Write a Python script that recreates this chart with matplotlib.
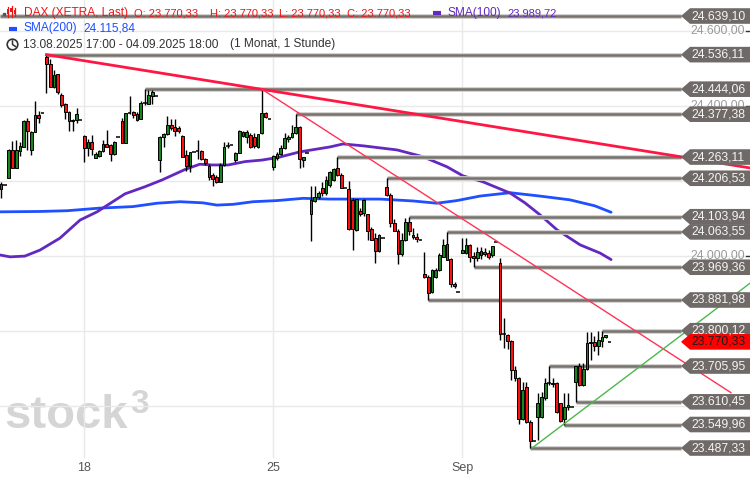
import matplotlib
matplotlib.use("Agg")
import matplotlib.pyplot as plt
from matplotlib.patches import Polygon, Circle, Rectangle
from matplotlib.transforms import blended_transform_factory
import numpy as np

plt.rcParams['font.family'] = ['Liberation Sans', 'DejaVu Sans']

# DAX hourly, 13.08.2025 17:00 - 04.09.2025 18:00 (10 slots per day, last slot = auction)
opens = [24178, 24189,
         24207, 24282, 24234, 24279, 24290, 24359, 24282, 24330, 24375, 24381,
         24530, 24511, 24450, 24485, 24429, 24405, 24383, 24359, 24362, 24362,
         24319, 24287, 24303, 24261, 24266, 24279, 24298, 24295, 24271, 24317,
         24359, 24301, 24381, 24383, 24378, 24365, 24407, 24405, 24426, 24426,
         24255, 24317, 24325, 24349, 24343, 24341, 24319, 24269, 24239, 24277,
         24279, 24279, 24258, 24239, 24215, 24210, 24197, 24242, 24293, 24295,
         24255, 24274, 24330, 24317, 24322, 24317, 24290, 24327, 24381, 24365,
         24237, 24261, 24271, 24287, 24311, 24317, 24327, 24343, 24255, 24274,
         24111, 24146, 24157, 24181, 24167, 24189, 24202, 24234, 24215, 24181,
         24178, 24149, 24069, 24119, 24114, 24111, 24071, 24047, 24013, 24047,
         24183, 24162, 24087, 24066, 24005, 24042, 24090, 24055, 24050, 24042,
         23951, 23943, 23903, 23943, 23962, 23997, 24031, 23991, 23925, 23903,
         24007, 24007, 24029, 23999, 23994, 24002, 24010, 24007, 24002, 24037,
         23981, 23791, 23789, 23773, 23695, 23674, 23565, 23650, 23557, 23506,
         23570, 23570, 23621, 23661, 23658, 23661, 23607, 23565, 23597, 23597,
         23663, 23706, 23655, 23698, 23767, 23770, 23759, 23773, 23783, 23770.33]
highs = [24197, 24189,
         24285, 24306, 24309, 24303, 24362, 24367, 24333, 24413, 24386, 24381,
         24536.11, 24525, 24495, 24485, 24434, 24407, 24386, 24365, 24394, 24362,
         24322, 24311, 24322, 24277, 24282, 24309, 24335, 24298, 24306, 24317,
         24367, 24381, 24426, 24386, 24383, 24413, 24444.06, 24441, 24441, 24426,
         24319, 24327, 24373, 24365, 24365, 24346, 24322, 24282, 24266, 24277,
         24309, 24282, 24261, 24245, 24221, 24215, 24247, 24303, 24303, 24295,
         24277, 24335, 24333, 24335, 24327, 24327, 24325, 24444.06, 24383, 24365,
         24269, 24277, 24295, 24327, 24322, 24349, 24377.38, 24346, 24263, 24274,
         24186, 24186, 24173, 24197, 24213, 24226, 24234, 24263.11, 24221, 24181,
         24199, 24154, 24151, 24127, 24151, 24111, 24077, 24061, 24058, 24047,
         24206.53, 24167, 24098, 24071, 24060, 24100, 24103.94, 24074, 24061, 24042,
         24010, 23949, 23965, 23967, 24007, 24045, 24063.55, 23994, 23930, 23903,
         24047, 24047, 24031, 24010, 24023, 24023, 24021, 24015, 24026, 24037,
         23994, 23834, 23791, 23775, 23706, 23677, 23663, 23663, 23562, 23506,
         23634, 23637, 23674, 23705.95, 23674, 23663, 23607, 23634, 23634, 23597,
         23706, 23714, 23714, 23797, 23797, 23786, 23799, 23800.12, 23789, 23770.33]
lows = [24154, 24189,
        24207, 24234, 24234, 24266, 24290, 24282, 24269, 24330, 24354, 24381,
        24434, 24450, 24447, 24431, 24397, 24365, 24333, 24333, 24354, 24362,
        24250, 24266, 24269, 24261, 24263, 24277, 24290, 24253, 24269, 24317,
        24301, 24301, 24378, 24367, 24359, 24365, 24402, 24405, 24405, 24426,
        24223, 24290, 24322, 24335, 24319, 24327, 24263, 24226, 24223, 24277,
        24258, 24255, 24242, 24202, 24186, 24194, 24197, 24239, 24287, 24295,
        24250, 24274, 24317, 24301, 24287, 24287, 24287, 24325, 24367, 24365,
        24229, 24255, 24269, 24285, 24303, 24314, 24325, 24234, 24237, 24274,
        24039, 24143, 24151, 24159, 24162, 24183, 24199, 24213, 24181, 24181,
        24069, 24015, 24066, 24106, 24106, 24042, 24042, 23981, 24010, 24047,
        24159, 24077, 24066, 23978, 23999, 24039, 24055, 24045, 24037, 24042,
        23941, 23881.98, 23901, 23941, 23959, 23997, 23989, 23917, 23914, 23903,
        24007, 24005, 23983, 23969.36, 23986, 23991, 23999, 23991, 23997, 24037,
        23775, 23754, 23751, 23669, 23666, 23552, 23562, 23553, 23487.33, 23506,
        23509, 23567, 23615, 23655, 23650, 23581, 23557, 23549.96, 23589, 23597,
        23610.45, 23653, 23653, 23695, 23722, 23746, 23735, 23757, 23781, 23770.33]
closes = [24191, 24189,
          24282, 24234, 24282, 24293, 24359, 24333, 24330, 24375, 24367, 24381,
          24511, 24450, 24482, 24437, 24402, 24383, 24359, 24362, 24378, 24362,
          24287, 24303, 24285, 24271, 24279, 24298, 24290, 24271, 24303, 24317,
          24301, 24381, 24383, 24375, 24362, 24407, 24405, 24429, 24437, 24426,
          24317, 24325, 24349, 24341, 24333, 24333, 24263, 24239, 24277, 24277,
          24277, 24258, 24247, 24210, 24205, 24197, 24242, 24290, 24295, 24295,
          24274, 24333, 24319, 24330, 24290, 24293, 24325, 24381, 24370, 24365,
          24266, 24271, 24287, 24314, 24317, 24327, 24343, 24258, 24263, 24274,
          24149, 24157, 24167, 24167, 24202, 24223, 24231, 24215, 24181, 24181,
          24071, 24071, 24151, 24111, 24149, 24066, 24042, 24013, 24055, 24047,
          24162, 24087, 24066, 24005, 24042, 24090, 24066, 24050, 24045, 24042,
          23943, 23901, 23962, 23962, 24002, 24029, 23989, 23925, 23919, 23903,
          24015, 24029, 23997, 23994, 24010, 24013, 24005, 23997, 24026, 24037,
          23791, 23789, 23773, 23695, 23674, 23565, 23642, 23557, 23506, 23506,
          23607, 23623, 23661, 23660, 23661, 23583, 23559, 23597, 23602, 23597,
          23706, 23655, 23698, 23767, 23770, 23759, 23775, 23783, 23789, 23770.33]

# moving averages (slot, value)
sma100_x = [-0.3, 2.4, 6.3, 10.3, 15.6, 20.9, 25.4, 32.8, 38.1, 42.6, 48.7, 52.6, 55.8,
            60.1, 64.6, 69.0, 73.3, 79.1, 87.0, 90.5, 95.8, 104.8, 111.6, 118.0, 122.2,
            127.5, 134.7, 138.6, 142.6, 147.1, 153.2, 158.5, 161.4]
sma100 = [24002, 23997, 23999, 24015, 24047, 24095, 24117, 24165, 24184, 24202, 24230,
          24244, 24242, 24242, 24251, 24255, 24262, 24277, 24290, 24298, 24293, 24282,
          24264, 24237, 24213, 24197, 24167, 24141, 24109, 24069, 24029, 24007, 23989.72]
sma200_x = [-0.3, 10.3, 17.5, 26.2, 34.9, 41.3, 47.4, 53.4, 57.1, 61.4, 66.7, 73.0, 79.9,
            87.0, 100.3, 109.0, 115.3, 120.6, 126.7, 134.7, 142.6, 150.5, 157.1, 161.4]
sma200 = [24117, 24118, 24120, 24127, 24131, 24140, 24144, 24141, 24135, 24137, 24144,
          24147, 24153, 24151, 24151, 24146, 24140, 24147, 24159, 24168, 24159, 24149,
          24133, 24115.84]

# horizontal levels and the slot where each one starts
levels = [24639.10, 24536.11, 24444.06, 24377.38, 24263.11, 24206.53, 24103.94, 24063.55,
          23969.36, 23881.98, 23800.12, 23705.95, 23610.45, 23549.96, 23487.33]
level_start = [None, 12, 38, 78, 89, 102, 108, 118, 125, 113, 159, 145, 152, 149, 140]
last_price = 23770.33

# trend lines (slot, price)
trend_long = [(12, 24536.11), (198.2, 24234)]
trend_short = [(69, 24444.06), (193.1, 23635)]
trend_up = [(140.5, 23487.33), (198.2, 23927)]

grid_levels = [23600, 23800, 24000, 24200, 24400, 24600]
axis_labels = [24000, 24400, 24600]   # the ones peeking out behind the boxes
tick_pos = [22, 72, 122]
tick_labels = ['18', '25', 'Sep']


def fmt_de(v):
    s = f"{v:,.2f}"
    return s.replace(",", "X").replace(".", ",").replace("X", ".")


W, H = 750, 480
fig = plt.figure(figsize=(W / 100, H / 100), dpi=100)
ax_h = 458
ax = fig.add_axes([0, (H - ax_h) / H, 1, ax_h / H])
ymin, ymax = 23460.7, 24681.8
x0, x1 = -0.27, 198.15
ax.set_xlim(x0, x1)
ax.set_ylim(ymin, ymax)
for sp in ax.spines.values():
    sp.set_visible(False)
ax.set_yticks(grid_levels)
ax.tick_params(axis='y', length=0, labelleft=False)
ax.set_xticks(tick_pos)
ax.set_xticklabels(tick_labels)
ax.tick_params(axis='x', length=0, pad=3, labelsize=9, labelcolor='#555555')
ax.grid(True, color='#e9e9e9', lw=1)
ax.set_axisbelow(True)

# watermark
ax.text(4 / W, (ax_h - 428) / ax_h, 'stock', transform=ax.transAxes, fontsize=34,
        fontweight='bold', color='#d5d5d5', va='baseline', ha='left', zorder=0.5)
ax.text(130 / W, (ax_h - 413) / ax_h, '3', transform=ax.transAxes, fontsize=24,
        fontweight='bold', color='#d5d5d5', va='baseline', ha='left', zorder=0.5)

# moving averages
ax.plot(sma200_x, sma200, color='#1f4fff', lw=2, zorder=2, solid_capstyle='round')
ax.plot(sma100_x, sma100, color='#6328c0', lw=2, zorder=2, solid_capstyle='round')

# support / resistance levels
frac_tip = 681 / W
x_tip = x0 + frac_tip * (x1 - x0)
for p, s0 in zip(levels, level_start):
    start = x0 if s0 is None else s0
    ax.hlines(p, start, x_tip, color='#cfccca', lw=3.4, zorder=2.4)
    ax.hlines(p, start, x_tip, color='#77726e', lw=1.8, zorder=2.5)

# candles
o = np.array(opens, dtype=float)
hi = np.array(highs, dtype=float)
lo = np.array(lows, dtype=float)
c = np.array(closes, dtype=float)
slots = np.arange(len(o))
bw = 0.74
flat = np.abs(c - o) < 2.5
up = (c > o) & ~flat
dn = (c < o) & ~flat
ax.vlines(slots, lo, hi, color='black', lw=1, zorder=3)
ax.bar(slots[up], (c - o)[up], bottom=o[up], width=bw, color='#17861f',
       edgecolor='black', lw=0.7, zorder=3.5)
ax.bar(slots[dn], (o - c)[dn], bottom=c[dn], width=bw, color='#ff1010',
       edgecolor='black', lw=0.7, zorder=3.5)
ax.hlines(o[flat], slots[flat] - 0.5, slots[flat] + 0.5, color='black', lw=1.1, zorder=3.5)

# trend lines
ax.plot(*zip(*trend_long), color='#ff1744', lw=2, zorder=4)
ax.plot(*zip(*trend_short), color='#ff3355', lw=1, zorder=4)
ax.plot(*zip(*trend_up), color='#4cb84c', lw=1, zorder=4)

# right-hand labels
tr = blended_transform_factory(ax.transAxes, ax.transData)
ppp = (ymax - ymin) / ax_h
hh = 7.8 * ppp
for g in axis_labels:
    ax.text(690 / W, g, fmt_de(g), transform=tr, fontsize=8.8, color='#9a9a9a',
            va='center', ha='left', zorder=5)
for g in grid_levels:
    ax.plot([746 / W, 750 / W], [g, g], transform=tr, color='#333333', lw=1, zorder=5,
            clip_on=False)


def price_box(p, face, txt_color):
    poly = Polygon([(frac_tip, p), (690 / W, p + hh), (1.0, p + hh), (1.0, p - hh),
                    (690 / W, p - hh)], closed=True, transform=tr, facecolor=face,
                   edgecolor='none', zorder=6, clip_on=False)
    ax.add_patch(poly)
    ax.text(691 / W, p, fmt_de(p), transform=tr, fontsize=8.8, color=txt_color,
            va='center', ha='left', zorder=7)


for p in levels:
    price_box(p, '#6f6a67', '#f4f4f4')
price_box(last_price, '#ff0000', '#1e1e1e')

# header overlay
hd = fig.add_axes([0, 0, 1, 1])
hd.set_xlim(0, W)
hd.set_ylim(H, 0)
hd.axis('off')
red = '#f01414'
purple = '#6328c0'
blue = '#1f4fff'
fs = 8.0
hd.add_patch(Rectangle((2.5, 12.5), 2.5, 2.5, color='#555555'))
for xx, y_top, y_bot, b0, b1 in [(8, 7, 17, 9, 14), (11.5, 6, 17, 8, 12), (15, 8, 16, 10, 14)]:
    hd.plot([xx, xx], [y_top, y_bot], color=red, lw=0.9)
    hd.add_patch(Rectangle((xx - 1.2, b0), 2.4, b1 - b0, facecolor=red, edgecolor='none'))
hd.text(24, 13, 'DAX (XETRA, Last)', color=red, fontsize=8.6, va='center')
hd.text(134, 13, 'O: 23.770,33', color=red, fontsize=fs, va='center')
hd.text(210, 13, 'H: 23.770,33', color=red, fontsize=fs, va='center')
hd.text(279, 13, 'L: 23.770,33', color=red, fontsize=fs, va='center')
hd.text(347, 13, 'C: 23.770,33', color=red, fontsize=fs, va='center')
hd.plot([433, 441], [13, 13], color=purple, lw=3, solid_capstyle='butt')
hd.text(447, 13, 'SMA(100)', color=purple, fontsize=8.6, va='center')
hd.text(507, 13, '23.989,72', color=purple, fontsize=fs, va='center')
hd.plot([9, 17], [29, 29], color=blue, lw=3, solid_capstyle='butt')
hd.text(23, 28.5, 'SMA(200)', color=blue, fontsize=8.6, va='center')
hd.text(83, 28.5, '24.115,84', color=blue, fontsize=8.6, va='center')
hd.add_patch(Circle((12.5, 44.5), 5.3, fill=False, edgecolor='#333333', lw=1.2))
hd.plot([12.5, 12.5, 15.5], [41, 44.5, 46.5], color='#333333', lw=1.1)
hd.text(23, 44.5, '13.08.2025 17:00 - 04.09.2025 18:00', color='#333333', fontsize=8.6,
        va='center')
hd.text(230, 44.5, '(1 Monat, 1 Stunde)', color='#333333', fontsize=8.6, va='center')

fig.savefig('out.png', dpi=100)
